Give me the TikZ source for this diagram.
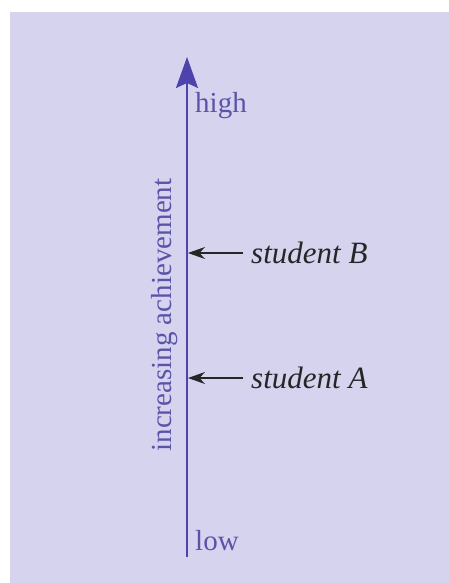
\documentclass[tikz,border=0pt]{standalone}
\usepackage{fontspec}
\setmainfont{Liberation Serif}
\usetikzlibrary{arrows.meta}
\definecolor{panel}{HTML}{D6D3EF}
\definecolor{axis}{HTML}{4E43AC}
\definecolor{labelc}{HTML}{5B53A8}
\begin{document}
\begin{tikzpicture}[x=1pt,y=-1pt,
  lbl/.style={font=\fontsize{29}{32}\selectfont, text=labelc, inner sep=0pt},
  stud/.style={font=\fontsize{31}{34}\selectfont\itshape, text=black!85, inner xsep=8pt, inner ysep=0pt, anchor=west},
  pointer/.style={-{Stealth[length=17pt,width=12pt]}, line width=1.2pt, black!85}]
\useasboundingbox (0,0) rectangle (449,583);
\fill[white] (0,0) rectangle (449,583);
\fill[panel] (10,12) rectangle (449,583);
\coordinate (bot) at (187,557);
\coordinate (top) at (187,57);
\draw[axis, line width=2pt, -{Stealth[length=31pt,width=22pt,inset=5pt]}] (bot) -- (top);
\node[lbl, anchor=base west] (high) at (195,113) {high};
\node[lbl, anchor=base west] (low) at (195,550) {low};
\node[lbl, rotate=90] (inc) at (165,315) {increasing achievement};
\coordinate (pB) at (188,253);
\coordinate (pA) at (188,378);
\node[stud] (sB) at (243,253) {student B};
\node[stud] (sA) at (243,378) {student A};
\draw[pointer] (sB.west) -- (pB);
\draw[pointer] (sA.west) -- (pA);
\end{tikzpicture}
\end{document}
